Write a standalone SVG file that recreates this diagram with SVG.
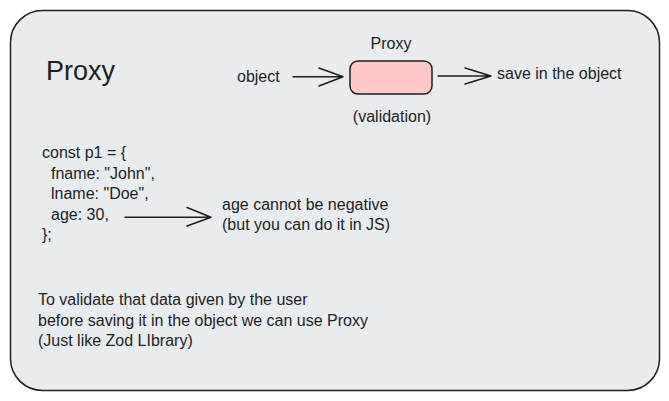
<svg xmlns="http://www.w3.org/2000/svg" width="669" height="401" viewBox="0 0 669 401">
  <style>
    .t { font-family: "Liberation Sans", Arial, sans-serif; font-size: 16px; fill: #1e1e1e; }
    .ln { stroke: #1e1e1e; stroke-width: 1.5; fill: none; stroke-linecap: round; stroke-linejoin: round; }
  </style>
  <rect width="669" height="401" fill="#ffffff"/>
  <g id="frame">
    <rect x="10.5" y="10.5" width="649" height="380" rx="32" ry="32" fill="#e9ecef" stroke="#1e1e1e" stroke-width="1.5"/>
  </g>
  <g id="title">
    <text class="t" x="46" y="80" style="font-size:27px">Proxy</text>
  </g>
  <g id="object-label">
    <text class="t" x="237" y="82">object</text>
  </g>
  <g id="proxy-box">
    <rect x="350" y="61" width="82" height="33" rx="8" ry="8" fill="#ffc9c9" stroke="#1e1e1e" stroke-width="1.5"/>
    <text class="t" x="391" y="49" text-anchor="middle">Proxy</text>
    <text class="t" x="392" y="122" text-anchor="middle">(validation)</text>
  </g>
  <g id="save-label">
    <text class="t" x="497" y="79">save in the object</text>
  </g>
  <g id="code">
    <text class="t" x="42" y="158">const p1 = {</text>
    <text class="t" x="51" y="178.5">fname: "John",</text>
    <text class="t" x="51" y="199">lname: "Doe",</text>
    <text class="t" x="51" y="219.5">age: 30,</text>
    <text class="t" x="42" y="240">};</text>
  </g>
  <g id="age-note">
    <text class="t" x="222" y="210">age cannot be negative</text>
    <text class="t" x="222" y="230">(but you can do it in JS)</text>
  </g>
  <g id="summary">
    <text class="t" x="38" y="305">To validate that data given by the user</text>
    <text class="t" x="38" y="325.5">before saving it in the object we can use Proxy</text>
    <text class="t" x="38" y="346">(Just like Zod LIbrary)</text>
  </g>
  <g id="connectors">
    <path class="ln" d="M293 76.7 L343 76.7 M319 68 L343 76.7 L319 86"/>
    <path class="ln" d="M438 76 L491 76 M465 68 L491 76 L465 84"/>
    <path class="ln" d="M125 217.3 L211 217.3 M187 207.5 L211 217.3 L187 226"/>
  </g>
</svg>
